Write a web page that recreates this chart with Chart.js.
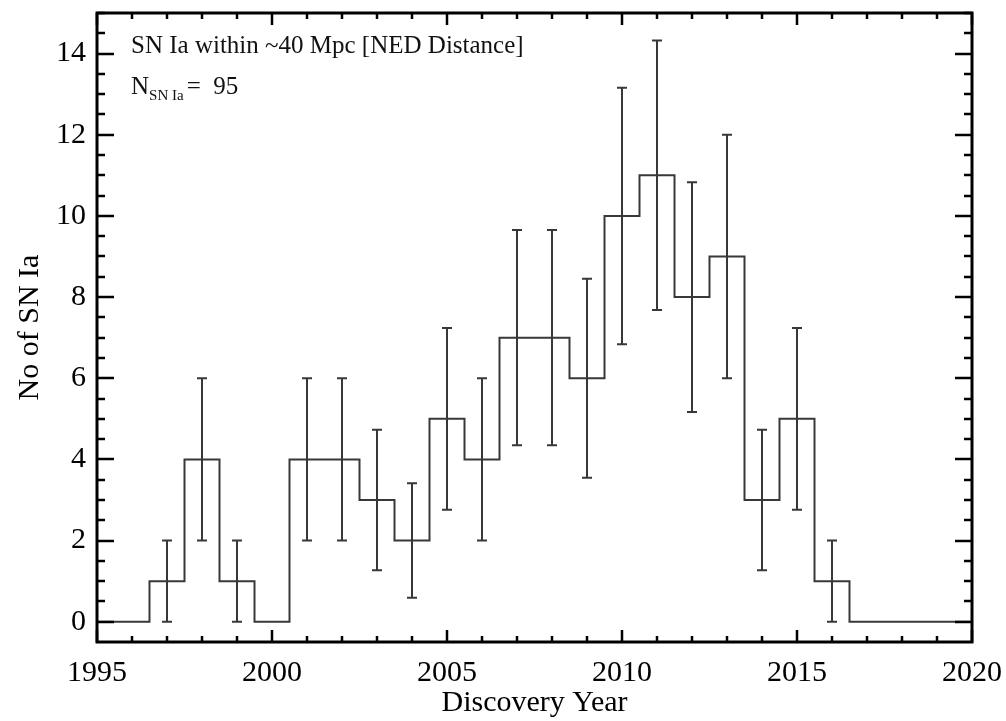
<!DOCTYPE html>
<html>
<head>
<meta charset="utf-8">
<script src="https://cdn.jsdelivr.net/npm/chart.js@4.4.1/dist/chart.umd.min.js"></script>
<style>
  html, body { margin: 0; padding: 0; background: #ffffff; }
  #wrap { width: 1006px; height: 721px; position: relative; }
</style>
</head>
<body>
<div id="wrap"><canvas id="c" width="1006" height="721"></canvas></div>
<script>
// Discovery years (one histogram bin per year)
const years = [1995, 1996, 1997, 1998, 1999, 2000, 2001, 2002, 2003, 2004, 2005, 2006, 2007,
               2008, 2009, 2010, 2011, 2012, 2013, 2014, 2015, 2016, 2017, 2018, 2019, 2020];
// Number of SN Ia discovered per year
const counts = [0, 0, 1, 4, 1, 0, 4, 4, 3, 2, 5, 4, 7, 7, 6, 10, 11, 8, 9, 3, 5, 1, 0, 0, 0, 0];
// Size of the error bar above/below each bin (0 = no bar)
const errors = [0, 0, 1.0, 2.0, 1.0, 0, 2.0, 2.0, 1.73, 1.41, 2.24, 2.0, 2.65,
                2.65, 2.45, 3.16, 3.32, 2.83, 3.0, 1.73, 2.24, 1.0, 0, 0, 0, 0];
// Tick values
const xMajorTicks = [1995, 2000, 2005, 2010, 2015, 2020];
const yMajorTicks = [0, 2, 4, 6, 8, 10, 12, 14];

const totalLabel = '95';
const FONT = '"Liberation Serif", "DejaVu Serif", serif';
const INK = '#383838';

const points = years.map((y, i) => ({ x: y, y: counts[i] }));

// Error bars with small caps
const errorBars = {
  id: 'errorBars',
  afterDatasetsDraw(chart) {
    const { ctx, scales: { x, y } } = chart;
    ctx.save();
    ctx.strokeStyle = INK;
    ctx.lineWidth = 2;
    years.forEach((yr, i) => {
      const e = errors[i];
      if (!e) return;
      const px = Math.round(x.getPixelForValue(yr));
      const lo = y.getPixelForValue(counts[i] - e);
      const hi = y.getPixelForValue(counts[i] + e);
      ctx.beginPath();
      ctx.moveTo(px, lo); ctx.lineTo(px, hi);
      ctx.moveTo(px - 5, lo); ctx.lineTo(px + 5, lo);
      ctx.moveTo(px - 5, hi); ctx.lineTo(px + 5, hi);
      ctx.stroke();
    });
    ctx.restore();
  }
};

// Closed frame with inward ticks on all four sides, plus the annotation
const frameTicks = {
  id: 'frameTicks',
  afterDraw(chart) {
    const { ctx, chartArea: a, scales: { x, y } } = chart;
    ctx.save();
    ctx.strokeStyle = '#000';
    ctx.lineWidth = 2.5;
    ctx.beginPath();
    // x ticks: major every 5 years, minor every year
    for (let v = x.min; v <= x.max; v += 1) {
      const px = Math.round(x.getPixelForValue(v));
      const len = (v % 5 === 0) ? 12 : 6;
      ctx.moveTo(px, a.bottom); ctx.lineTo(px, a.bottom - len);
      ctx.moveTo(px, a.top); ctx.lineTo(px, a.top + len);
    }
    // y ticks: major every 2, minor every 0.5
    for (let v = 0; v <= y.max + 1e-6; v += 0.5) {
      const py = Math.round(y.getPixelForValue(v));
      const len = (Math.abs(v % 2) < 1e-6) ? 17 : 8;
      ctx.moveTo(a.left, py); ctx.lineTo(a.left + len, py);
      ctx.moveTo(a.right, py); ctx.lineTo(a.right - len, py);
    }
    ctx.stroke();
    ctx.lineWidth = 3;
    ctx.strokeRect(a.left, a.top, a.right - a.left, a.bottom - a.top);

    ctx.fillStyle = '#111';
    ctx.textBaseline = 'alphabetic';
    ctx.textAlign = 'left';
    ctx.font = '25px ' + FONT;
    ctx.fillText('SN Ia within ~40 Mpc [NED Distance]', 131, 53);
    let cx = 131;
    ctx.fillText('N', cx, 94);
    cx += ctx.measureText('N').width;
    ctx.font = '15px ' + FONT;
    ctx.fillText('SN Ia', cx, 100);
    cx += ctx.measureText('SN Ia').width + 3;
    ctx.font = '25px ' + FONT;
    ctx.fillText('=  ' + totalLabel, cx, 94);
    ctx.restore();
  }
};

new Chart(document.getElementById('c'), {
  type: 'line',
  data: {
    datasets: [{
      data: points,
      stepped: 'middle',
      borderColor: INK,
      borderWidth: 2,
      pointRadius: 0,
      fill: false
    }]
  },
  options: {
    responsive: false,
    animation: false,
    devicePixelRatio: 1,
    layout: { padding: { left: 0, right: 34, top: 13, bottom: 0 } },
    plugins: { legend: { display: false }, tooltip: { enabled: false } },
    scales: {
      x: {
        type: 'linear',
        min: 1995, max: 2020,
        grid: { display: false },
        border: { display: false },
        afterBuildTicks(s) { s.ticks = xMajorTicks.map(v => ({ value: v })); },
        afterFit(s) { s.height = 79; s.paddingLeft = 0; s.paddingRight = 0; },
        ticks: {
          color: '#000',
          font: { family: FONT, size: 30 },
          padding: 5,
          maxRotation: 0,
          autoSkip: false,
          callback: v => String(v)
        },
        title: {
          display: true,
          text: 'Discovery Year',
          color: '#000',
          font: { family: FONT, size: 30 },
          padding: { top: 0, bottom: 0 }
        }
      },
      y: {
        min: -0.5, max: 15,
        grid: { display: false },
        border: { display: false },
        afterBuildTicks(s) { s.ticks = yMajorTicks.map(v => ({ value: v })); },
        afterFit(s) { s.width = 97; s.paddingTop = 0; s.paddingBottom = 0; },
        ticks: {
          color: '#000',
          font: { family: FONT, size: 30 },
          padding: 3,
          callback: v => String(v)
        },
        title: {
          display: true,
          text: 'No of SN Ia',
          color: '#000',
          font: { family: FONT, size: 30 },
          padding: { top: 12, bottom: 0 }
        }
      }
    }
  },
  plugins: [errorBars, frameTicks]
});
</script>
</body>
</html>
